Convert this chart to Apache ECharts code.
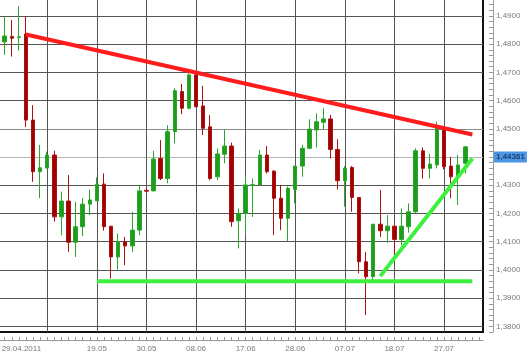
<!DOCTYPE html>
<html><head><meta charset="utf-8">
<script src="https://cdn.jsdelivr.net/npm/echarts@6/dist/echarts.min.js"></script>
<style>html,body{margin:0;padding:0;background:#fff}#c{width:530px;height:357px}</style>
</head><body><div id="c"></div>
<script>
const dates = ['29.04.2011','02.05','03.05','04.05','05.05','06.05','09.05','10.05','11.05','12.05','13.05','16.05','17.05','18.05','19.05','20.05','23.05','24.05','25.05','26.05','27.05','30.05','31.05',
'01.06','02.06','03.06','06.06','07.06','08.06','09.06','10.06','13.06','14.06','15.06','16.06','17.06','20.06','21.06','22.06','23.06','24.06','27.06','28.06','29.06','30.06',
'01.07','04.07','05.07','06.07','07.07','08.07','11.07','12.07','13.07','14.07','15.07','18.07','19.07','20.07','21.07','22.07','25.07','26.07','27.07','28.07','29.07','01.08','02.08','03.08'];
const opens = [null,1.4808,1.4827,1.4823,1.4836,1.4531,1.4348,1.4361,1.4407,1.4188,1.4244,1.4098,1.4153,1.4233,1.4245,1.4304,1.4155,1.4046,1.4100,1.4085,1.4141,1.4282,1.4280,1.4395,1.4324,1.4490,1.4632,1.4573,1.4691,1.4581,1.4507,1.4330,1.4410,1.4439,1.4174,1.4200,1.4300,1.4301,1.4407,1.4350,1.4254,1.4183,1.4285,1.4368,1.4431,1.4496,1.4523,1.4535,1.4427,1.4316,1.4363,1.4257,1.4029,1.3976,1.4162,1.4139,1.4155,1.4108,1.4153,1.4206,1.4422,1.4360,1.4372,1.4502,1.4368,1.4330,1.4378,null,null];
const closes = [null,1.4829,1.4821,1.4826,1.4531,1.4348,1.4362,1.4407,1.4188,1.4244,1.4098,
1.4153,1.4233,1.4248,1.4304,1.4153,1.4046,1.4100,1.4085,1.4141,1.4280,
1.4279,1.4393,1.4324,1.4490,1.4635,1.4573,1.4691,1.4578,1.4502,1.4324,
1.4411,1.4439,1.4171,1.4200,1.4301,1.4302,1.4407,1.4348,1.4254,1.4183,
1.4289,1.4368,1.4431,1.4499,1.4525,1.4535,1.4427,1.4316,1.4360,1.4257,
1.4029,1.3976,1.4162,1.4139,1.4155,1.4108,1.4155,1.4206,1.4422,1.4360,
1.4375,1.4502,1.4366,1.4330,1.4372,1.4436,null,null];
const lows = [null,1.4762,1.4756,1.4777,1.4507,1.4312,1.4254,1.4360,1.4171,1.4123,1.4064,
1.4046,1.4120,1.4194,1.4244,1.4139,1.3970,1.4002,1.4017,1.4064,1.4123,
1.4273,1.4279,1.4318,1.4307,1.4449,1.4552,1.4569,1.4578,1.4478,1.4318,
1.4318,1.4378,1.4153,1.4076,1.4129,1.4188,1.4300,1.4342,1.4123,1.4141,
1.4100,1.4236,1.4330,1.4427,1.4434,1.4496,1.4395,1.4285,1.4224,1.4206,
1.3988,1.3840,1.3954,1.4117,1.4096,1.4052,1.4088,1.4132,1.4202,1.4324,
1.4324,1.4360,1.4356,1.4254,1.4230,1.4342,null,null];
const highs = [null,1.4898,1.4886,1.4935,1.4898,1.4584,1.4443,1.4419,1.4422,1.4277,1.4336,
1.4241,1.4254,1.4285,1.4328,1.4342,1.4155,1.4129,1.4117,1.4206,1.4301,
1.4289,1.4422,1.4460,1.4513,1.4644,1.4659,1.4697,1.4702,1.4652,1.4549,
1.4431,1.4496,1.4451,1.4218,1.4330,1.4324,1.4425,1.4439,1.4354,1.4301,
1.4295,1.4368,1.4443,1.4534,1.4555,1.4573,1.4549,1.4463,1.4368,1.4368,
1.4257,1.4064,1.4162,1.4283,1.4194,1.4160,1.4218,1.4236,1.4431,1.4434,
1.4411,1.4525,1.4507,1.4401,1.4407,1.4439,null,null];
const tickLabels = ['29.04.2011','19.05','30.05','08.06','17.06','28.06','07.07','18.07','27.07'];
const gridDates = ['10.05','19.05','30.05','08.06','17.06','28.06','07.07','18.07','27.07'];
const redTrendDates = ['05.05','02.08'];
const redTrendValues = [1.4834, 1.4480];
const supportDates = ['19.05','02.08'];
const supportValues = [1.3960, 1.3960];
const riseDates = ['14.07','02.08'];
const riseValues = [1.3978, 1.4395];
const lastPrice = 1.44361;
const yMin = 1.378, yMax = 1.496, yStep = 0.002;

const candleData = dates.map((d,i)=> opens[i]==null ? '-' : [opens[i], closes[i], lows[i], highs[i]]);
function isMajor(v){ return Math.abs(v*100 - Math.round(v*100)) < 1e-6; }
const nTicks = Math.round((yMax - yMin)/yStep) + 1;
const splitColors = [];
for (let i=0;i<nTicks;i++){
  const v = yMin + i*yStep;
  if (!isMajor(v)) { splitColors.push('rgba(0,0,0,0)'); continue; }
  const r = Math.round(v*100);
  splitColors.push(r===144 ? '#b4b4b4' : (r===145 ? '#8a8a8a' : '#555555'));
}
const fnt = 'Liberation Sans';
const chart = echarts.init(document.getElementById('c'), null, {renderer:'canvas'});
chart.setOption({
  animation:false,
  backgroundColor:'#ffffff',
  grid:{left:-5.9, right:47, top:-1, bottom:25, show:true, borderColor:'#111', borderWidth:2, backgroundColor:'#fff', containLabel:false, outerBoundsMode:'none'},
  xAxis:{
    type:'category', data:dates, boundaryGap:true, offset:8,
    axisLine:{show:true, lineStyle:{color:'#9a9a9a', width:1}},
    axisTick:{show:true, inside:true, length:3, interval:0, alignWithLabel:true, lineStyle:{color:'#9a9a9a'}},
    axisLabel:{interval:(i,v)=>tickLabels.includes(v), color:'#7a7a7a', fontSize:8, fontFamily:fnt, margin:5, alignMinLabel:'left',
      formatter:(v,i)=> i===0 ? '{f|'+v+'}' : v,
      rich:{f:{padding:[0,0,0,4], color:'#7a7a7a', fontSize:8, fontFamily:fnt}}},
    splitLine:{show:true, interval:(i,v)=>gridDates.includes(v), alignWithLabel:true, lineStyle:{color:'#555', width:1}}
  },
  yAxis:{
    type:'value', position:'right', min:yMin, max:yMax, interval:yStep, offset:10,
    axisLine:{show:true, lineStyle:{color:'#9a9a9a', width:1}},
    axisTick:{show:true, inside:true, length:4, lineStyle:{color:'#9a9a9a'}},
    axisLabel:{margin:3, color:'#7a7a7a', fontSize:8, fontFamily:fnt, showMinLabel:true, showMaxLabel:true,
      formatter:(v)=> isMajor(v) ? v.toFixed(4).replace('.',',') : ''},
    splitLine:{show:true, lineStyle:{color:splitColors, width:1}}
  },
  series:[
    {type:'candlestick', data:candleData, barWidth:4,
     itemStyle:{color:'#1c9e1c', color0:'#a30000', borderColor:'#2aa62a', borderColor0:'#aa1212', borderWidth:1},
     markLine:{silent:true, symbol:'none', animation:false, data:[{yAxis:lastPrice}],
       lineStyle:{color:'rgba(0,0,0,0)', width:0},
       label:{show:true, position:'end', distance:11, formatter:()=>lastPrice.toFixed(5).replace('.',','),
         backgroundColor:'#4a96e4', color:'#0c1a3a', fontSize:8, fontFamily:fnt, padding:[2,2,1,2]}}},
    {type:'line', data:redTrendDates.map((d,i)=>[d,redTrendValues[i]]), symbol:'none', z:5,
     lineStyle:{color:'#ff1c1c', width:4}},
    {type:'line', data:supportDates.map((d,i)=>[d,supportValues[i]]), symbol:'none', z:5,
     lineStyle:{color:'#3df03d', width:4}},
    {type:'line', data:riseDates.map((d,i)=>[d,riseValues[i]]), symbol:'none', z:5,
     lineStyle:{color:'#3df03d', width:4}}
  ]
});
</script></body></html>
